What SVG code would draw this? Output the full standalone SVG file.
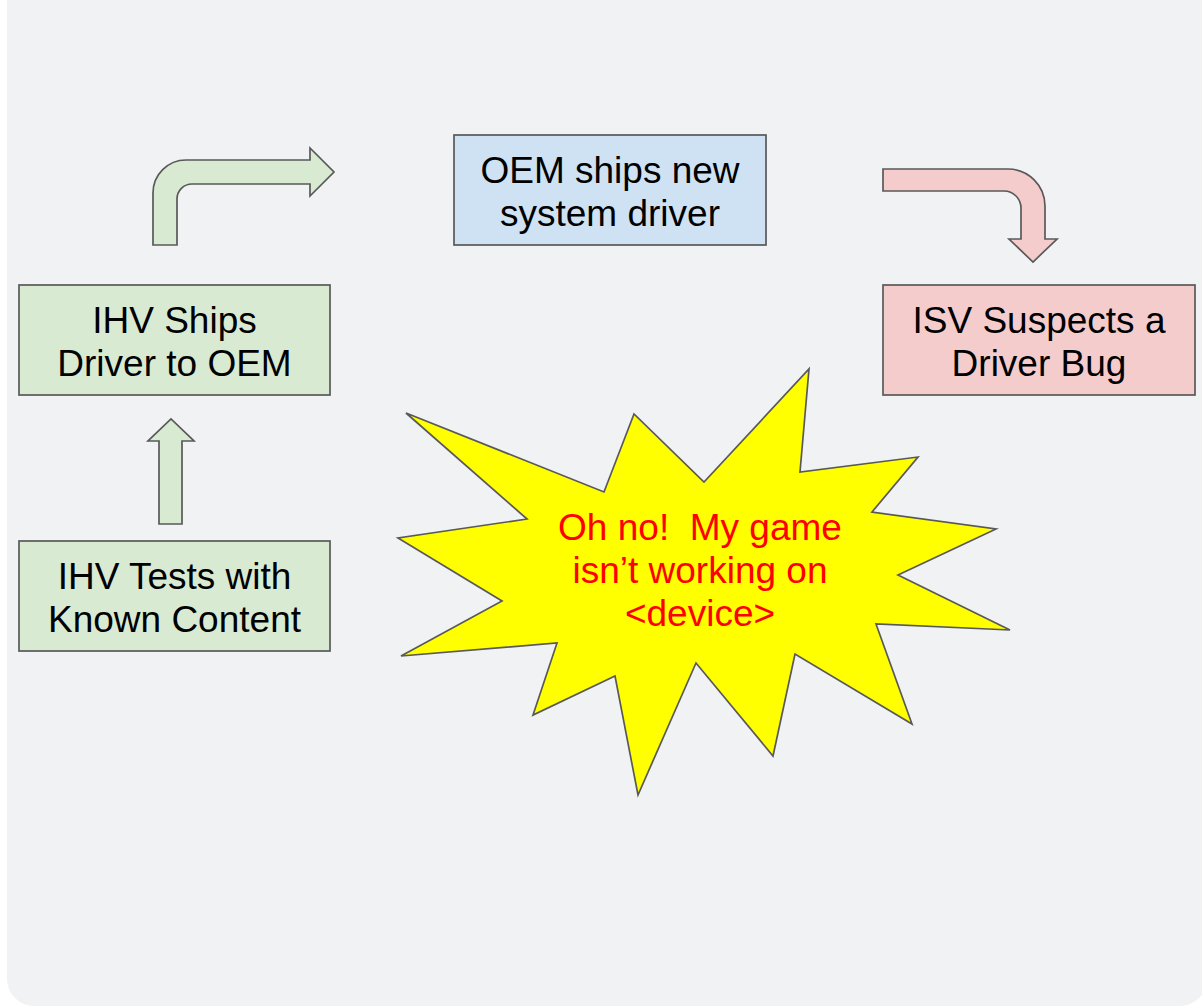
<svg xmlns="http://www.w3.org/2000/svg" width="1202" height="1007" viewBox="0 0 1202 1007">
<style>
.bg{fill:#f1f2f4}
.box{stroke:#595959;stroke-width:1.7}
.green{fill:#d9ead3}
.blue{fill:#cfe2f3}
.pink{fill:#f4cccc}
.arrow{stroke:#595959;stroke-width:1.7;stroke-linejoin:miter}
.t{font-family:"Liberation Sans",Arial,sans-serif;font-size:37px;fill:#000;text-anchor:middle}
.r{fill:#ff0000;white-space:pre}
</style>
<rect class="bg" x="7" y="-40" width="1200" height="1046" rx="27"/>
<g id="connectors">
<path class="arrow green" d="M153,245 L153,193 A33,33 0 0 1 186,160 L310,160 L310,148 L334,172 L310,196 L310,184 L192,184 A15,15 0 0 0 177,199 L177,245 Z"/>
<path class="arrow pink" d="M883,169 L1008,169 A37,37 0 0 1 1045,206 L1045,239 L1057,239 L1033,262 L1009,239 L1021,239 L1021,208 A17,17 0 0 0 1004,191 L883,191 Z"/>
<path class="arrow green" d="M159,524 L159,441 L148,441 L171,419 L194,441 L182,441 L182,524 Z"/>
</g>
<g id="oem">
<rect class="box blue" x="454" y="135" width="312" height="110"/>
<text class="t" x="610" y="183">OEM ships new</text>
<text class="t" x="610" y="226">system driver</text>
</g>
<g id="ihv-ships">
<rect class="box green" x="19" y="285" width="311" height="110"/>
<text class="t" x="174.5" y="333">IHV Ships</text>
<text class="t" x="174.5" y="376">Driver to OEM</text>
</g>
<g id="ihv-tests">
<rect class="box green" x="19" y="541" width="311" height="110"/>
<text class="t" x="174.5" y="589">IHV Tests with</text>
<text class="t" x="174.5" y="632">Known Content</text>
</g>
<g id="isv">
<rect class="box pink" x="883" y="285" width="312" height="110"/>
<text class="t" x="1039" y="333">ISV Suspects a</text>
<text class="t" x="1039" y="376">Driver Bug</text>
</g>
<g id="burst">
<polygon class="box" fill="#ffff00" points="406,413 604,492 634,414 704,482 809,369 800,472 918,457 872,512 996,529 898,575 1010,630 876,624 912,724 795,654 773,756 696,663 638,795 615,676 533,715 557,643 401,656 502,601 398,538 527,519"/>
<text class="t r" x="700" y="540">Oh no!  My game</text>
<text class="t r" x="700" y="583">isn’t working on</text>
<text class="t r" x="700" y="626">&lt;device&gt;</text>
</g>
</svg>
